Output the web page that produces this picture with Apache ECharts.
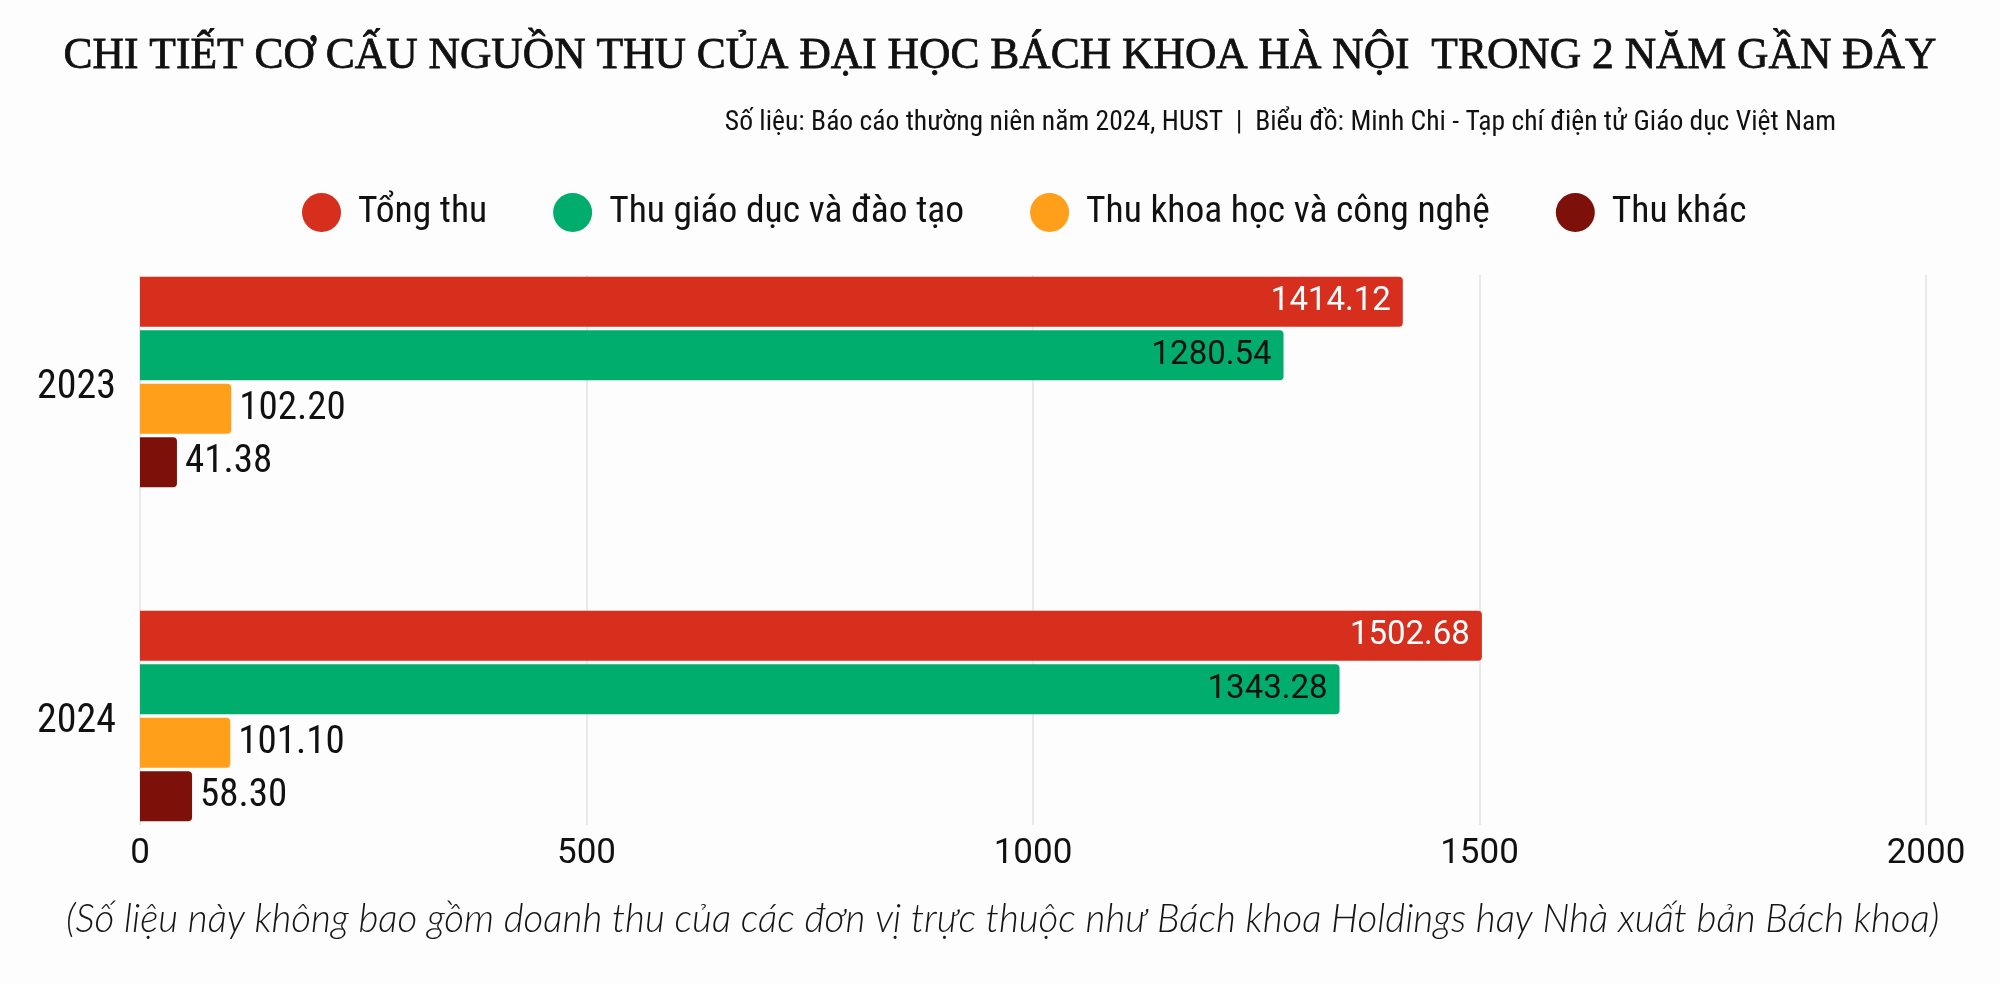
<!DOCTYPE html>
<html>
<head>
<meta charset="utf-8">
<script src="https://cdn.jsdelivr.net/npm/echarts@6/dist/echarts.min.js"></script>
<style>
html,body{margin:0;padding:0;background:#fefdfd;}
#chart{width:2000px;height:984px;}
</style>
</head>
<body>
<div id="chart"></div>
<script>
const years = ['2023', '2024'];
const seriesNames = ['Tổng thu', 'Thu giáo dục và đào tạo', 'Thu khoa học và công nghệ', 'Thu khác'];
const tongThu = [1414.12, 1502.68];
const thuGiaoDuc = [1280.54, 1343.28];
const thuKhoaHoc = [102.20, 101.10];
const thuKhac = [41.38, 58.30];
const xTicks = [0, 500, 1000, 1500, 2000];

const colors = ['#d72f1e', '#00ad6d', '#ff9f1a', '#7e100a'];
const values = [tongThu, thuGiaoDuc, thuKhoaHoc, thuKhac];
const narrow = '"Liberation Sans Narrow", "Roboto Condensed", Roboto, sans-serif';

const chart = echarts.init(document.getElementById('chart'));

const labelStyles = [
  {show: true, position: 'insideRight', color: '#ffffff', fontFamily: 'Roboto', fontSize: 33, distance: 12},
  {show: true, position: 'insideRight', color: '#111111', fontFamily: 'Roboto', fontSize: 33, distance: 12},
  {show: true, position: 'right', color: '#111111', fontFamily: narrow, fontSize: 39, distance: 8},
  {show: true, position: 'right', color: '#111111', fontFamily: narrow, fontSize: 39, distance: 8}
];

const series = seriesNames.map((name, i) => ({
  name: name,
  type: 'bar',
  xAxisIndex: 0,
  yAxisIndex: 0,
  data: values[i],
  barWidth: 50,
  barGap: '7%',
  itemStyle: {color: colors[i], borderRadius: [0, 4, 4, 0]},
  label: Object.assign({formatter: p => p.value.toFixed(2)}, labelStyles[i])
}));

chart.setOption({
  backgroundColor: '#fefdfd',
  animation: false,
  title: [
    {
      text: 'CHI TIẾT CƠ CẤU NGUỒN THU CỦA ĐẠI HỌC BÁCH KHOA HÀ NỘI  TRONG 2 NĂM GẦN ĐÂY',
      left: 'center',
      top: 30,
      textStyle: {fontFamily: '"Liberation Serif", serif', fontSize: 43.5, fontWeight: 'normal', color: '#111111',
        textBorderColor: '#111111', textBorderWidth: 0.8}
    },
    {
      text: 'Số liệu: Báo cáo thường niên năm 2024, HUST  |  Biểu đồ: Minh Chi - Tạp chí điện tử Giáo dục Việt Nam',
      right: 159,
      top: 104,
      textStyle: {fontFamily: narrow, fontSize: 27.6, fontWeight: 'normal', color: '#111111'}
    }
  ],
  legend: {
    top: 188,
    left: 297,
    icon: 'circle',
    itemWidth: 39,
    itemHeight: 39,
    itemGap: 66,
    data: seriesNames,
    textStyle: {fontFamily: narrow, fontSize: 37.5, color: '#111111', padding: [0, 0, 0, 12]}
  },
  grid: [
    {left: 140, right: 74, top: 215, bottom: 101, containLabel: false},
    {left: 140, right: 74, top: 275, bottom: 159, containLabel: false}
  ],
  xAxis: [
    {type: 'value', gridIndex: 0, min: 0, max: 2000, interval: 500, show: false},
    {
      type: 'value', gridIndex: 1, min: xTicks[0], max: xTicks[xTicks.length - 1], interval: 500,
      axisLine: {show: false}, axisTick: {show: false},
      splitLine: {show: true, lineStyle: {color: '#e2e2e2', width: 1.5}},
      axisLabel: {fontFamily: 'Roboto', fontSize: 35, color: '#111111', margin: 12, formatter: v => String(v)}
    }
  ],
  yAxis: [
    {
      type: 'category', gridIndex: 0, data: years, inverse: true,
      axisLine: {show: false}, axisTick: {show: false}, splitLine: {show: false},
      axisLabel: {
        margin: 24,
        formatter: v => '{y|' + v + '}',
        rich: {y: {fontFamily: narrow, fontSize: 40, color: '#111111', padding: [12, 0, 0, 0]}}
      }
    },
    {type: 'category', gridIndex: 1, data: years, show: false}
  ],
  graphic: [
    {
      type: 'text',
      left: 66,
      top: 900,
      style: {
        text: '(Số liệu này không bao gồm doanh thu của các đơn vị trực thuộc như Bách khoa Holdings hay Nhà xuất bản Bách khoa)',
        fontFamily: 'Lato, sans-serif', fontStyle: 'italic', fontWeight: 300, fontSize: 38.5, fill: '#151515'
      }
    }
  ],
  series: series
});
</script>
</body>
</html>
